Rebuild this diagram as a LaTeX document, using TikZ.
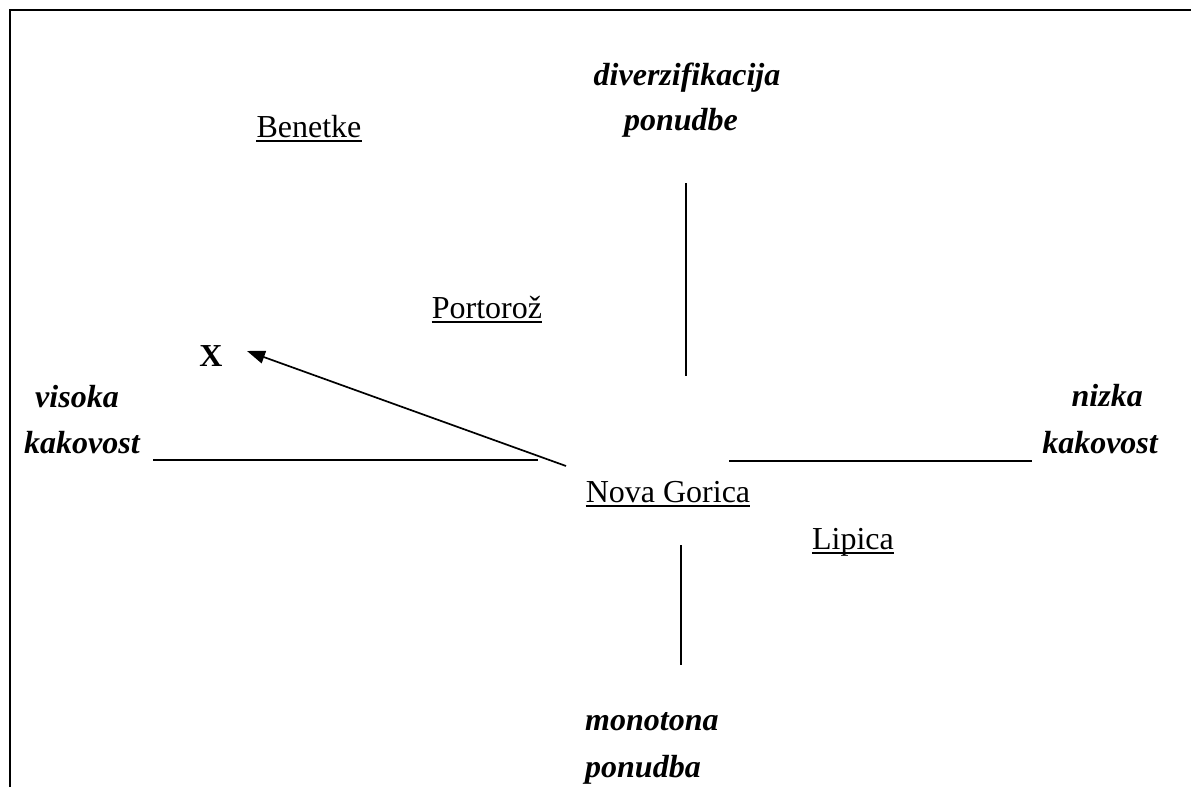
\documentclass[tikz,border=0pt]{standalone}
\usepackage{fontspec}
\setmainfont{Liberation Serif}
\usetikzlibrary{arrows.meta}
\begin{document}
\begin{tikzpicture}[x=1pt,y=-1pt,
  lbl/.style={inner sep=0pt,font=\fontsize{32}{38}\selectfont},
  axislbl/.style={lbl,font=\fontsize{32}{38}\selectfont\bfseries\itshape},
  axisline/.style={line width=1.7pt},
  ul/.style={line width=1.4pt}]
\useasboundingbox (0,0) rectangle (1191,787);
% frame
\draw[line width=2.2pt] (10,787) -- (10,10) -- (1191,10);
% axis labels
\node[axislbl,anchor=base] (div) at (687,85) {diverzifikacija};
\node[axislbl,anchor=base] (pon) at (681,130) {ponudbe};
\node[axislbl,anchor=base west] (vis) at (35,407) {visoka};
\node[axislbl,anchor=base west] (kak1) at (24,453) {kakovost};
\node[axislbl,anchor=base east] (niz) at (1143,406) {nizka};
\node[axislbl,anchor=base east] (kak2) at (1158,453) {kakovost};
\node[axislbl,anchor=base west] (mon) at (585,730) {monotona};
\node[axislbl,anchor=base west] (pond) at (585,777) {ponudba};
% places
\node[lbl,anchor=base] (ben) at (309,137) {Benetke};
\node[lbl,anchor=base] (por) at (487,318) {Portorož};
\node[lbl,anchor=base] (ng) at (668,502) {Nova Gorica};
\node[lbl,anchor=base] (lip) at (853,549) {Lipica};
\node[lbl,anchor=base,font=\fontsize{32}{38}\selectfont\bfseries] (x) at (211,366) {X};
\foreach \n in {ben,por,ng,lip}
  \draw[ul] ([yshift=-4pt]\n.base west) -- ([yshift=-4pt]\n.base east);
% axes
\coordinate (t1) at (686,183); \coordinate (t2) at (686,376);
\coordinate (b1) at (681,545); \coordinate (b2) at (681,665);
\coordinate (l1) at (153,460); \coordinate (l2) at (538,460);
\coordinate (r1) at (729,461); \coordinate (r2) at (1032,461);
\draw[axisline] (t1) -- (t2);
\draw[axisline] (b1) -- (b2);
\draw[axisline] (l1) -- (l2);
\draw[axisline] (r1) -- (r2);
% arrow
\coordinate (as) at (566,466);
\coordinate (ae) at (247,351);
\draw[axisline,-{Triangle[length=18pt,width=13pt]}] (as) -- (ae);
\end{tikzpicture}
\end{document}
